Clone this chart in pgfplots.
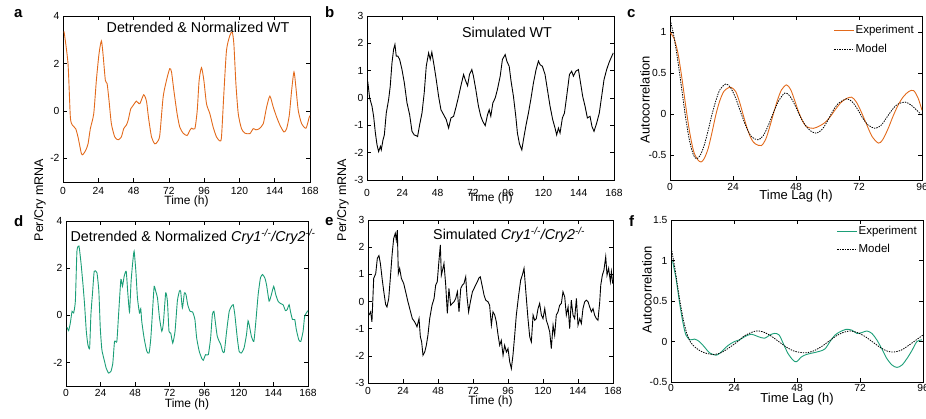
\documentclass[border=0pt]{standalone}
\usepackage{pgfplots}
\pgfplotsset{compat=1.18}
\usepackage{fontspec}
\setmainfont{Liberation Sans}
\definecolor{exporange}{RGB}{226,106,28}
\definecolor{expgreen}{HTML}{1B9E77}
\newcommand{\tickfont}{\fontsize{10.3}{12}\selectfont}
\newcommand{\labfont}{\fontsize{12}{14}\selectfont}
\newcommand{\aclabfont}{\fontsize{13}{15}\selectfont}
\tikzset{titlefont/.style={font=\fontsize{14.3}{16}\selectfont}}
\pgfplotsset{
  panel/.style={
    scale only axis,
    anchor=south west,
    clip mode=individual,
    axis line style={line width=0.8pt},
    tick style={line width=0.6pt, black},
    tick align=inside,
    major tick length=4pt,
    /pgf/number format/assume math mode=true,
    yticklabel style={font=\tickfont},
    xtick={0,24,...,168},
    xmin=0, xmax=168,
  },
  aclegend/.style={
    legend cell align=left,
    legend image code/.code={\draw[##1] (0pt,0pt) -- (20pt,0pt);},
    legend style={draw=none, fill=none, anchor=north east, at={(1,1)},
      font=\fontsize{11.5}{13}\selectfont, inner sep=0pt,
      nodes={inner sep=1pt}},
  },
}
\begin{document}
\begin{tikzpicture}
\useasboundingbox (0pt,0pt) rectangle (926pt,418pt);

% ---------------- panel a ----------------
\begin{axis}[panel, at={(63pt,236pt)}, width=247pt, height=166pt,
  ymin=-3, ymax=4, ytick={-2,0,2,4}, xticklabel style={font=\tickfont, yshift=-1.5pt},
  xlabel={Time (h)}, xlabel style={font=\labfont, at={(axis description cs:0.5,0)}, anchor=north, inner sep=0pt, yshift=-14pt}]
\addplot[exporange, line width=0.9pt, smooth, tension=0.4] coordinates {
(0.7,3.35)(3.4,2.0)(5,-0.26)(6.4,-0.6)(8.6,-0.75)(10.2,-1.1)(12.5,-1.8)(13.6,-1.84)(15.4,-1.67)(17,-1.4)
(18.6,-0.75)(20.9,-0.12)(22.7,1.29)(24.5,2.41)(26.1,2.95)(27.2,2.41)(28.8,1.29)(30,1.15)(31.3,0.44)(32.9,-0.54)
(35.2,-1.1)(37.5,-1.22)(39.7,-1.1)(41.3,-0.75)(43.1,-0.6)(44.3,-0.4)(46.1,0.09)(47.7,0.23)(49.9,0.41)(52.2,0.3)
(54.9,0.68)(56.8,0.4)(58.1,-0.26)(60.2,-1.1)(62.4,-1.39)(64,-1.32)(65.8,-1.04)(68.1,0.58)(70.4,1.29)(72.6,1.78)
(73.8,1.64)(75.4,0.86)(77.6,-0.12)(79.4,-0.68)(81.7,-0.94)(84.4,-1.04)(86.3,-0.82)(87.4,-0.73)(89.7,-0.75)(91.3,0.02)
(92.6,1.29)(94.2,1.82)(95.8,1.29)(97.6,0.3)(99.9,-0.12)(102.1,-0.68)(104.4,-1.1)(106.7,-1.27)(107.8,-1.1)(109.4,0.72)
(111.2,2.55)(113.5,3.18)(115.1,3.32)(116.2,2.83)(117.6,1.15)(119.2,-0.12)(121.4,-0.75)(123.7,-0.94)(127.1,-0.96)(129.4,-0.75)
(131.2,-0.8)(133.5,-0.75)(136.2,-0.54)(138.5,0.16)(140.7,0.62)(143,0.16)(145.3,-0.26)(147.6,-0.61)(150.3,-0.89)(152.1,-0.75)
(153.9,-0.19)(155.5,0.86)(157.1,1.64)(158.4,1.0)(160,0.02)(162.3,-0.54)(165.3,-0.73)(167.5,-0.26)(168,-0.2)};
\node[titlefont] at (axis description cs:0.547,0.934) {Detrended \& Normalized WT};
\end{axis}

% ---------------- panel b ----------------
\begin{axis}[panel, at={(367pt,238pt)}, width=247pt, height=164pt,
  ymin=-3, ymax=3, ytick={-3,-2,...,3}, xticklabel style={font=\tickfont, yshift=-5.5pt},
  xlabel={Time (h)}, xlabel style={font=\labfont, at={(axis description cs:0.5,0)}, anchor=north, inner sep=0pt, yshift=-13pt}]
\addplot[black, line width=0.9pt] coordinates {
(0.5,0.61)(1.8,0)(3.4,-0.3)(4.5,-0.67)(5.7,-1.28)(6.8,-1.71)(7.9,-1.96)(9.1,-1.77)(9.7,-1.9)(10.9,-1.53)
(11.8,-1.35)(13.1,-0.55)(14.7,-0.06)(15.8,0.43)(17,1.29)(18.1,1.78)(19,1.96)(19.9,1.53)(21,1.53)(22.2,1.41)
(23.8,1.04)(25.4,0.55)(27.2,-0.18)(29,-0.61)(30.6,-1.22)(32.1,-1.35)(33.5,-1.38)(34.4,-1.41)(35.8,-0.98)(37.4,-0.55)
(38.9,0.18)(40.3,1.16)(41.9,1.65)(43,1.41)(44.1,1.68)(45.7,1.16)(47.1,0.67)(48.7,0.06)(50.3,-0.43)(52.1,-0.61)
(53.9,-0.79)(55.5,-1.1)(57.1,-0.73)(58.9,-0.67)(60.7,-0.3)(62.3,0.06)(63.8,0.43)(65.7,0.86)(66.8,0.67)(68.4,0.45)
(69.7,0.86)(71.3,1.04)(72.4,0.8)(74,0.31)(75.8,-0.3)(77.4,-0.67)(78.8,-0.86)(80.4,-1.01)(82,-0.61)(83.1,-0.43)
(84.2,-0.67)(85.6,-0.18)(87.2,0)(88.7,0.31)(90.6,0.8)(92.1,1.41)(94,1.59)(95.1,1.35)(96.7,1.16)(98,0.61)
(99.6,0.06)(101.2,-0.67)(102.3,-1.28)(103.7,-1.68)(105.3,-1.9)(106.4,-1.53)(108.2,-0.98)(109.8,-0.55)(111.4,-0.06)(113.2,0.55)
(115,1.04)(116.6,1.35)(117.7,1.22)(119.3,1.16)(121.1,0.86)(122.7,0.31)(124.5,-0.3)(126.3,-0.79)(127.9,-1.1)(129,-1.35)
(130.2,-1.1)(131.3,-1.28)(132.9,-0.73)(134.3,-0.55)(135.8,0.06)(137.7,0.86)(139.2,0.98)(140.4,0.8)(142,0.98)(143.8,1.04)
(144.9,0.67)(146.7,0.06)(148.3,-0.3)(149.9,-0.73)(151.7,-0.67)(153,-1.04)(154.4,-1.22)(156.2,-0.92)(158,-0.55)(159.6,0.06)
(161.2,0.67)(163,1.04)(164.6,1.29)(166,1.47)(167.5,1.65)};
\node[titlefont] at (axis description cs:0.567,0.902) {Simulated WT};
\end{axis}

% ---------------- panel c ----------------
\begin{axis}[panel, aclegend, at={(670pt,238pt)}, width=252pt, height=164pt,
  xmin=0, xmax=96, xtick={0,24,...,96},
  ymin=-0.8, ymax=1.2, ytick={-0.5,0,0.5,1}, xticklabel style={font=\tickfont, yshift=0pt},
  xlabel={Time Lag (h)}, xlabel style={font=\aclabfont, at={(axis description cs:0.5,0)}, anchor=north, inner sep=0pt, yshift=-9.5pt},
  ylabel={Autocorrelation}, ylabel style={font=\aclabfont, at={(axis description cs:-0.099,0.49)}, anchor=center},
  legend style={xshift=-7pt, yshift=-8pt, row sep=7.5pt}]
\addplot[exporange, line width=0.9pt, smooth] coordinates {
(0,1.0)(1.5,0.93)(3,0.75)(4.5,0.45)(6,0.1)(7.5,-0.22)(9,-0.45)(10.5,-0.55)(11.8,-0.58)(13,-0.54)
(14.5,-0.42)(16,-0.22)(17.5,0)(19,0.17)(20.5,0.28)(22,0.32)(23.3,0.33)(25,0.28)(26.5,0.15)(28,-0.02)
(29.5,-0.18)(31,-0.3)(32.5,-0.36)(34.8,-0.38)(36.5,-0.3)(38,-0.15)(39.5,0.02)(41,0.18)(42.5,0.3)(44.4,0.36)
(46,0.3)(47.5,0.17)(49,0.03)(50.5,-0.08)(52,-0.15)(54.6,-0.17)(57,-0.14)(59,-0.1)(61,-0.03)(63,0.06)
(65,0.14)(67,0.19)(69.2,0.21)(71,0.15)(73,0.02)(75,-0.13)(77,-0.27)(79.4,-0.35)(81,-0.31)(83,-0.18)
(85,-0.02)(87,0.12)(89,0.22)(91,0.28)(92.8,0.29)(94.5,0.2)(96,0.05)};
\addlegendentry{Experiment}
\addplot[black, line width=0.8pt, dash pattern=on 1.4pt off 1.1pt, smooth] coordinates {
(0.3,1.12)(1.5,0.95)(3,0.65)(4.5,0.3)(6,-0.05)(7.5,-0.33)(9,-0.5)(10.2,-0.54)(11.5,-0.5)(13,-0.38)
(14.5,-0.2)(16,0)(17.5,0.17)(19,0.3)(21.2,0.37)(23,0.33)(25,0.2)(27,0.02)(29,-0.15)(31,-0.27)
(33.5,-0.31)(35.5,-0.26)(37.5,-0.13)(39.5,0.03)(41.5,0.17)(43.7,0.26)(45.5,0.23)(47.5,0.12)(49.5,-0.02)(51.5,-0.13)
(53.5,-0.2)(55.8,-0.23)(58,-0.18)(60,-0.08)(62,0.04)(64,0.13)(67.3,0.19)(69.5,0.15)(71.5,0.06)(73.5,-0.05)
(75.5,-0.13)(78.2,-0.17)(80.5,-0.13)(82.5,-0.04)(84.5,0.05)(86.5,0.12)(89.6,0.15)(92,0.11)(94,0.05)(96,-0.01)};
\addlegendentry{Model}
\end{axis}

% ---------------- panel d ----------------
\begin{axis}[panel, at={(66pt,32pt)}, width=242pt, height=165pt,
  ymin=-3, ymax=4, ytick={-2,0,2,4}, xticklabel style={font=\tickfont, yshift=0pt},
  xlabel={Time (h)}, xlabel style={font=\labfont, at={(axis description cs:0.5,0)}, anchor=north, inner sep=0pt, yshift=-12.5pt}]
\addplot[expgreen, line width=0.9pt, smooth, tension=0.3] coordinates {
(0.7,-0.51)(1.8,-0.65)(3,-0.33)(4.2,0.17)(5.3,0.1)(6.5,0.6)(7.6,2.72)(9,2.94)(10.4,2.23)(11.8,1.3)
(12.9,0.45)(14.1,-0.68)(15.2,-1.25)(16.4,-1.39)(17.3,0.03)(18.5,1.02)(19.6,1.87)(21.5,1.8)(22.8,1.02)(23.8,-0.54)
(24.9,-1.46)(26.5,-1.89)(27.9,-2.24)(29.5,-2.45)(31.2,-2.38)(32.5,-2.03)(33.7,-1.11)(35.3,-1.11)(36.5,0.03)(38.1,1.52)
(39.2,1.23)(40.4,1.66)(41.8,1.87)(42.9,0.95)(44.1,0.14)(45.2,1.45)(46.4,2.3)(47.3,2.72)(48.5,1.87)(49.6,0.74)
(51,0.1)(51.9,0.28)(52.6,-0.26)(54.2,-0.96)(56.1,-1.53)(57.7,-1.6)(58.9,-0.96)(60.2,0.31)(61.2,1.23)(62.3,1.02)
(63.5,0.74)(64.9,-0.11)(66.5,-0.68)(67.6,-0.33)(69.2,0.95)(70.4,0.6)(71.5,-0.68)(72.7,-0.75)(74.1,-1.18)(75.7,-0.68)
(77.3,0.6)(78.7,1.02)(79.6,1.02)(80.8,0.31)(82.2,0.95)(83.3,0.88)(84.5,0.45)(86.1,0.17)(87.9,0.14)(89.5,-0.18)
(90.7,-0.96)(92.5,-1.53)(94.2,-1.82)(95.3,-1.91)(96.9,-1.67)(98.8,-1.67)(100.4,-0.96)(101.6,0.03)(102.7,0.17)(103.9,-0.4)
(105,-0.89)(106.4,-1.11)(107.5,-1.25)(108.7,-1.53)(109.9,-1.56)(111.5,-0.68)(113.3,0.17)(114.9,0.38)(116.1,0.45)(117.2,0.03)
(118.9,-0.96)(120.2,-1.53)(121.8,-1.6)(123.6,-1.39)(125.3,-0.82)(126.4,-0.23)(127.6,-0.54)(128.7,-0.89)(130.4,-1.11)(131.8,-0.26)
(133.4,0.88)(135,1.59)(136.4,1.73)(138,1.59)(139.2,1.3)(141,0.6)(142.6,0.88)(144.2,1.23)(145.6,0.88)(147.2,0.6)
(148.9,0.5)(150.7,0.45)(152.3,0.2)(153.5,0.24)(154.9,0.45)(155.8,0.17)(157.2,-0.18)(158.8,-0.18)(159.9,-0.61)(161.6,-1.04)
(163,-1.11)(164.6,-0.68)(165.7,-0.04)(168,0.2)};
\node[titlefont] at (axis description cs:0.525,0.903) {Detrended \& Normalized \textit{Cry1\textsuperscript{-/-}/Cry2\textsuperscript{-/-}}};
\end{axis}

% ---------------- panel e ----------------
\begin{axis}[panel, at={(368pt,35pt)}, width=245pt, height=163pt,
  ymin=-3, ymax=3, ytick={-3,-2,...,3}, xticklabel style={font=\tickfont, yshift=-0.5pt},
  xlabel={Time (h)}, xlabel style={font=\labfont, at={(axis description cs:0.5,0)}, anchor=north, inner sep=0pt, yshift=-12.5pt}]
\addplot[black, line width=0.9pt] coordinates {
(0.7,-0.5)(1.8,-0.38)(2.7,-0.75)(3.9,0.85)(5.3,1.03)(6.4,1.59)(7.5,1.69)(8.5,1.4)(9.8,0.79)(11,0.3)
(12.1,-0.11)(13,-0.2)(14.2,0.11)(15.3,0.85)(16.5,1.71)(17.6,2.32)(18.7,2.51)(19.4,2.26)(20.1,2.63)(20.8,1.03)
(21.7,1.22)(22.9,0.85)(24.5,0.66)(25.8,0.36)(27.4,-0.01)(28.6,-0.26)(30.4,-0.63)(32,-0.75)(33.6,-0.93)(35,-0.63)
(35.9,-1.3)(36.8,-1.49)(37.7,-1.98)(38.9,-1.86)(40,-1.61)(41.1,-1.24)(42.3,-0.63)(43.9,-0.14)(45.3,0.11)(46.4,0.6)
(47.5,0.73)(48.5,1.4)(49.6,2.08)(50.3,0.97)(51.4,1.22)(52.1,1.4)(53.3,0.6)(54.4,-0.44)(55.5,0.48)(56.7,-0.14)
(57.8,-0.07)(59,-0.01)(60.1,0.11)(61.3,0.36)(62.4,-0.38)(63.6,0.48)(64.7,0.6)(65.8,0.66)(67,0.91)(67.9,0.17)
(69,-0.38)(70.2,-0.01)(71.6,0.36)(72.7,0.48)(73.8,0.6)(75,0.73)(76.1,0.87)(77,0.91)(78.2,0.6)(79.6,0.23)
(80.7,0.05)(82.3,-0.01)(83.4,-0.14)(84.6,-0.87)(85.7,-0.38)(86.9,-0.5)(88,-0.75)(89.2,-1.24)(90.3,-1.61)(91.4,-1.43)
(92.6,-1.98)(93.7,-1.61)(94.9,-1.86)(96,-1.73)(97.2,-2.23)(98.3,-2.47)(99.4,-1.98)(100.6,-1.24)(101.7,-0.5)(103.3,0.23)
(104.7,0.79)(105.8,0.97)(107,1.22)(107.7,0.73)(108.6,0.11)(109.7,-0.63)(110.9,-1.3)(112,-1.49)(113.2,-0.5)(114.3,-0.69)
(115.4,-0.63)(116.6,-0.26)(117.7,-0.07)(118.9,-0.5)(120,-0.63)(121.2,-0.26)(122.3,-0.69)(123.4,-0.87)(124.6,-1.12)(125.7,-1.73)
(126.9,-0.87)(128,-1.24)(129.1,-0.5)(130.3,-0.38)(131.4,-0.14)(132.6,-0.07)(133.7,0.36)(134.9,0.17)(136,-0.5)(137.2,-0.2)
(138.3,-1.0)(139.4,0.05)(140.6,-0.5)(141.7,-0.63)(142.9,0.11)(144,-0.87)(145.2,-0.63)(146.3,-0.81)(147.4,-0.26)(148.6,-0.01)
(149.7,0.05)(150.9,-0.01)(152,-0.2)(153.2,-0.38)(154.3,-0.26)(155.4,-0.5)(156.6,-0.63)(157.7,-0.69)(158.9,-0.01)(159.6,0.6)
(160.7,0.97)(161.8,1.16)(163,1.65)(163.9,0.97)(165,1.22)(166.2,0.73)(166.9,1.1)(167.8,0.66)};
\node[titlefont] at (axis description cs:0.576,0.908) {Simulated \textit{Cry1\textsuperscript{-/-}/Cry2\textsuperscript{-/-}}};
\end{axis}

% ---------------- panel f ----------------
\begin{axis}[panel, aclegend, at={(671pt,36pt)}, width=252pt, height=162pt,
  xmin=0, xmax=96, xtick={0,24,...,96},
  ymin=-0.5, ymax=1.5, ytick={-0.5,0,0.5,1,1.5}, xticklabel style={font=\tickfont, yshift=1.5pt},
  xlabel={Time Lag (h)}, xlabel style={font=\aclabfont, at={(axis description cs:0.5,0)}, anchor=north, inner sep=0pt, yshift=-10.5pt},
  ylabel={Autocorrelation}, ylabel style={font=\aclabfont, at={(axis description cs:-0.095,0.57)}, anchor=center},
  legend style={xshift=-5pt, yshift=-5pt, row sep=6pt}]
\addplot[expgreen, line width=0.9pt, smooth] coordinates {
(0.6,0.99)(1.9,0.78)(3.2,0.49)(4.5,0.24)(5.7,0.08)(7.3,0.02)(8.9,0.03)(10.8,0)(12.8,-0.07)(14.7,-0.14)
(17.2,-0.17)(19.1,-0.13)(21.7,-0.05)(24.2,0)(26.1,0.02)(28.1,0.06)(30.6,0.09)(33.2,0.06)(35.7,0.04)(37.6,0.08)
(39.5,0.10)(41.2,0.08)(42.7,-0.02)(44.6,-0.15)(46.5,-0.23)(47.8,-0.25)(49.7,-0.19)(51.6,-0.16)(54.2,-0.14)(56.7,-0.12)
(58.7,-0.09)(60.6,0)(62.5,0.08)(64.4,0.12)(66.7,0.15)(68.9,0.14)(70.8,0.1)(72.7,0.11)(74.6,0.13)(76.5,0.10)
(78.4,0.02)(80.3,-0.09)(82.2,-0.21)(84.2,-0.29)(86.1,-0.32)(88,-0.29)(89.9,-0.21)(91.8,-0.11)(93.7,0)(95.6,0.02)};
\addlegendentry{Experiment}
\addplot[black, line width=0.8pt, dash pattern=on 1.4pt off 1.1pt, smooth] coordinates {
(0.3,1.12)(1.5,0.9)(3,0.58)(4.5,0.3)(6,0.1)(7.5,-0.01)(9.5,-0.08)(12,-0.13)(14,-0.15)(16.5,-0.16)
(19,-0.14)(22,-0.08)(25,-0.01)(28,0.07)(30.5,0.11)(32.5,0.13)(35,0.12)(38,0.07)(41,0.0)(44,-0.07)
(47,-0.12)(51,-0.14)(54,-0.12)(57,-0.07)(60,0)(63,0.07)(65.5,0.11)(68.2,0.13)(71,0.11)(74,0.06)
(77,-0.01)(80,-0.08)(82.5,-0.12)(84.8,-0.13)(87.5,-0.11)(90,-0.06)(93,0.01)(96,0.08)};
\addlegendentry{Model}
\end{axis}

% shared y labels and panel letters
\node[rotate=90, font=\fontsize{12.5}{14}\selectfont] at (40pt,218pt) {Per/Cry mRNA};
\node[rotate=90, font=\fontsize{12.5}{14}\selectfont] at (343pt,218pt) {Per/Cry mRNA};
\begin{scope}[every node/.style={anchor=base west, inner sep=0pt, font=\bfseries\fontsize{15}{15}\selectfont}]
\node at (14pt,400.5pt) {a};
\node at (325pt,400pt) {b};
\node at (627pt,400pt) {c};
\node at (14pt,191pt) {d};
\node at (325pt,192pt) {e};
\node at (629pt,191pt) {f};
\end{scope}
\end{tikzpicture}
\end{document}
